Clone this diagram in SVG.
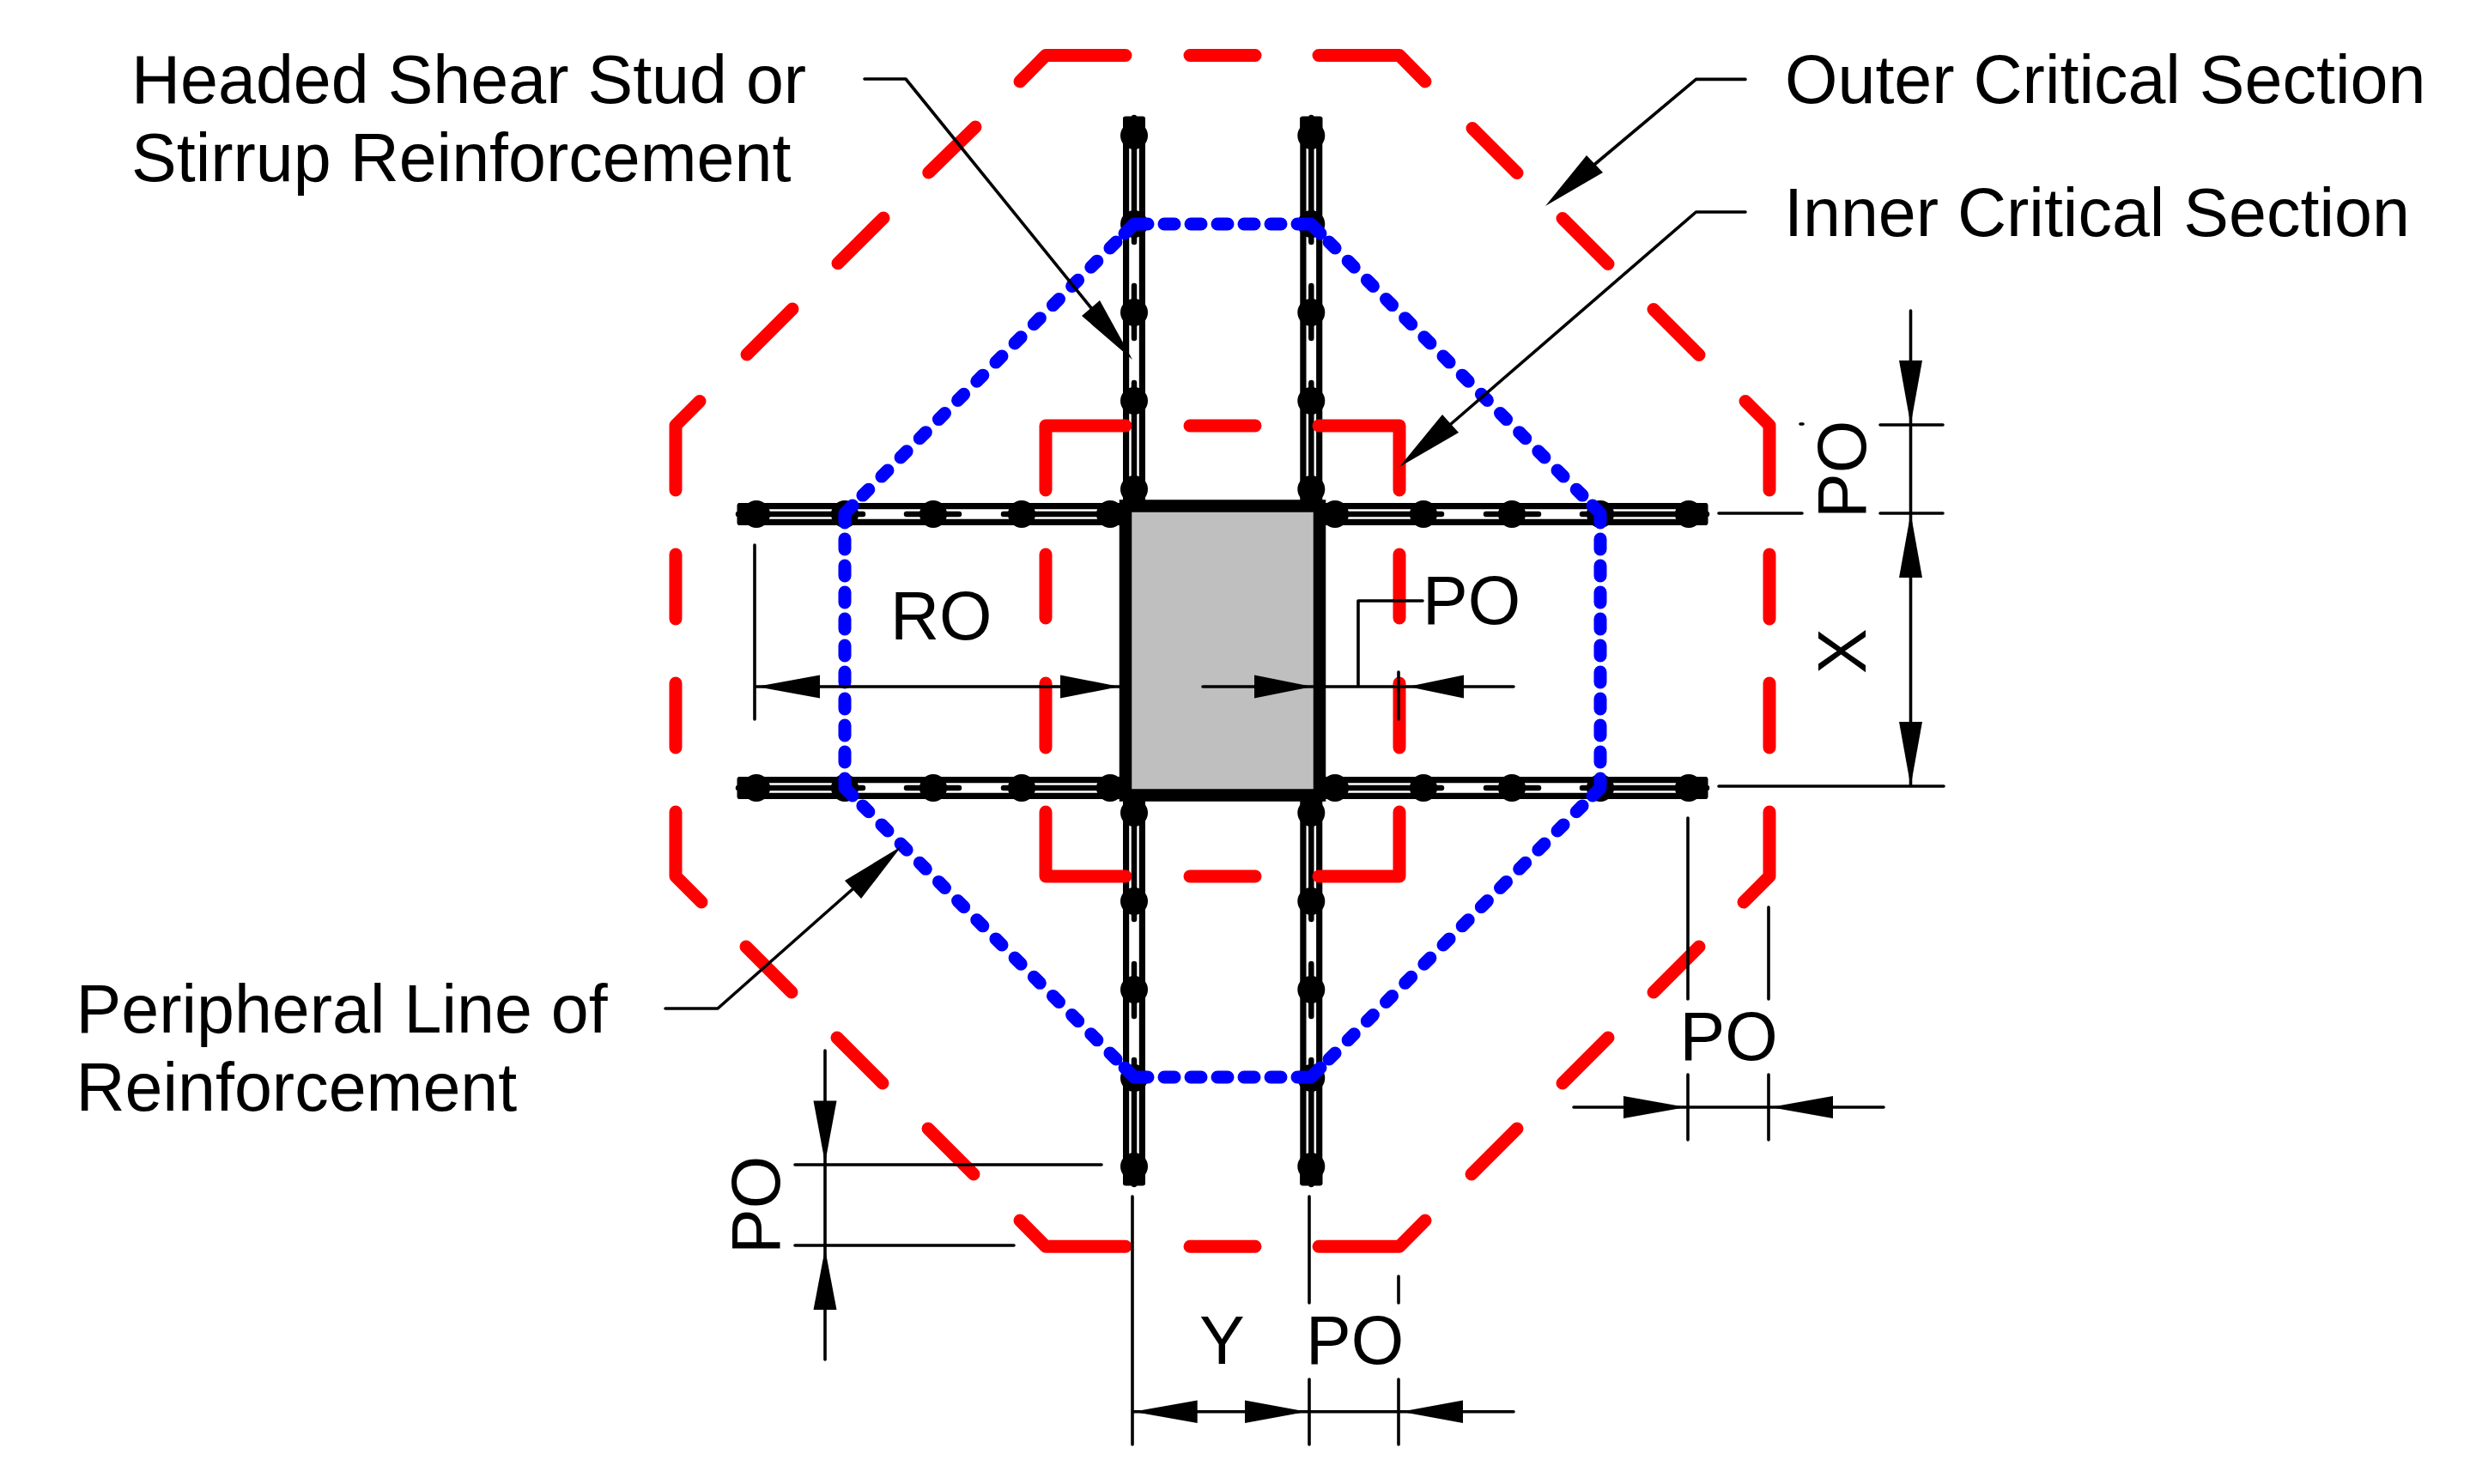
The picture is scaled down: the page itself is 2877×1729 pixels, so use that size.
<svg xmlns="http://www.w3.org/2000/svg" xmlns:xlink="http://www.w3.org/1999/xlink" width="2877" height="1729" viewBox="0 0 2877 1729">
<style>
.lbl{font-family:"Liberation Sans",Arial,sans-serif;font-size:79px;fill:#000}
.red{fill:none;stroke:#f00;stroke-width:15;stroke-linecap:round;stroke-linejoin:round}
.blue{fill:none;stroke:#00f;stroke-width:15;stroke-linecap:round;stroke-linejoin:round}
.dot{stroke-dasharray:12 19}
.dotd{stroke-dasharray:10 21.35}
.dim{fill:none;stroke:#000;stroke-width:3.6;stroke-linecap:round;stroke-linejoin:round}
.tip{fill:#000;stroke:none}
.rail{stroke:#000;stroke-width:7.2;fill:none}
.core{stroke:#000;stroke-width:6.5;fill:none;stroke-linecap:round}
</style>
<defs>
<g id="arm">
<path class="rail" d="M-21 -9.4H440M-21 9.4H440"/>
<path class="core" d="M-21 0H124M175 0H236M288 0H440"/>
<rect x="-22.5" y="-13" width="24" height="26" rx="3" fill="#000"/>
<circle cx="0" cy="0" r="16" fill="#000"/>
<circle cx="103" cy="0" r="16" fill="#000"/>
<circle cx="206" cy="0" r="16" fill="#000"/>
<circle cx="309" cy="0" r="16" fill="#000"/>
<circle cx="412" cy="0" r="16" fill="#000"/>
</g>
</defs>
<rect width="2877" height="1729" fill="#fff"/>
<g id="studs">
<use id="stud-left-top" xlink:href="#arm" href="#arm" transform="translate(881 599)"/>
<use id="stud-left-bottom" xlink:href="#arm" href="#arm" transform="translate(881 918)"/>
<use id="stud-right-top" xlink:href="#arm" href="#arm" transform="translate(1967 599) scale(-1 1)"/>
<use id="stud-right-bottom" xlink:href="#arm" href="#arm" transform="translate(1967 918) scale(-1 1)"/>
<use id="stud-top-left" xlink:href="#arm" href="#arm" transform="translate(1321 158) rotate(90)"/>
<use id="stud-top-right" xlink:href="#arm" href="#arm" transform="translate(1527.3 158) rotate(90)"/>
<use id="stud-bottom-left" xlink:href="#arm" href="#arm" transform="translate(1321 1359) rotate(-90)"/>
<use id="stud-bottom-right" xlink:href="#arm" href="#arm" transform="translate(1527.3 1359) rotate(-90)"/>
</g>
<g id="column"><rect x="1311" y="589.5" width="226" height="337" fill="#bfbfbf" stroke="#000" stroke-width="14.5"/></g>
<g id="outer-critical-section">
<path class="red" d="M1188 95L1218 64.5H1311M1386 64.5H1462M1536 64.5H1630L1660 95M1715 149.5L1767 201.5M1820 254.5L1873 307.5M1926 360.5L1979 413.5M2033 467.5L2061 495.5V571M2061 646V721M2061 796V871M2061 946V1021L2031 1051M1979 1103L1926 1156M1873 1209L1820 1262M1767 1315L1714 1368M1660 1422L1630 1452.3H1536M1462 1452.3H1386M1311 1452.3H1218L1188 1422M1134 1368L1081 1315M1028 1262L975 1209M922 1156L869 1103M817 1051L787 1021V946M787 871V796M787 721V646M787 571V495.5L815 467.5M870 413L923 360M976 306.7L1029 254M1081.7 201L1136 148"/>
</g>
<g id="inner-critical-section">
<path class="red" d="M1311 496H1218V571M1386 496H1462M1536 496H1630V571M1218 646V720M1218 796V871M1630 646V720M1630 796V871M1218 946V1021H1311M1386 1021H1462M1536 1021H1630V946"/>
</g>
<g id="peripheral-line">
<path class="blue" d="M1310 272L1321 261H1337M1511 261H1527L1538 272M1310 1244L1321 1255H1337M1511 1255H1527L1538 1244M993 589L984 598V609M984 907V918L993 927M1855 589L1864 598V609M1864 907V918L1855 927"/>
<path class="blue dot" d="M1356 261H1492M1356 1255H1492M984 628V888M1864 628V888"/>
<path class="blue dotd" d="M1300 282L1004.9 577.1M1548 282L1843.1 577.1M1300 1234L1004.9 938.9M1548 1234L1843.1 938.9"/>
</g>
<g id="connectors">
<path class="dim" d="M1007 92H1055L1272 360M2033 92.4H1975.5L1858 191M2033 247H1975.5L1690 494M775 1175H836L993 1036"/>
<polygon class="tip" points="1319,419 1281,350 1260,368"/>
<polygon class="tip" points="1800,240 1848,181 1867,201"/>
<polygon class="tip" points="1630,544 1680,483 1699,504"/>
<polygon class="tip" points="1050,986 984,1026 1003,1047"/>
<path class="dim" d="M879 635V838M879 800H1304M1401 800H1763M1582 800V700H1657M1629 783V838"/>
<polygon class="tip" points="881,800 955,786.5 955,813.5"/>
<polygon class="tip" points="1304,800 1235,786.5 1235,813.5"/>
<polygon class="tip" points="1529,800 1461,786.5 1461,813.5"/>
<polygon class="tip" points="1640,800 1705,786.5 1705,813.5"/>
<path class="dim" d="M2225.5 362V916M2190 495H2263M2190 598H2263M2002 598H2099M2002 916H2264M2097 494H2100"/>
<polygon class="tip" points="2225.5,495 2212,420 2239,420"/>
<polygon class="tip" points="2225.5,598 2212,673 2239,673"/>
<polygon class="tip" points="2225.5,916 2212,841 2239,841"/>
<path class="dim" d="M1966 953V1164M1966 1252V1328M2060 1057V1164M2060 1252V1328M1833 1290H2194"/>
<polygon class="tip" points="1964,1290 1891,1277 1891,1303"/>
<polygon class="tip" points="2062,1290 2135,1277 2135,1303"/>
<path class="dim" d="M961 1224V1584M926 1357H1283M926 1451H1181"/>
<polygon class="tip" points="961,1355 947.5,1282.5 974.5,1282.5"/>
<polygon class="tip" points="961,1455 947.5,1526 974.5,1526"/>
<path class="dim" d="M1319 1394V1683M1525 1394V1518M1525 1607V1683M1629 1487V1518M1629 1607V1683M1319 1644.7H1763"/>
<polygon class="tip" points="1320,1644.7 1394.7,1631.5 1394.7,1658"/>
<polygon class="tip" points="1522,1644.7 1450,1631.5 1450,1658"/>
<polygon class="tip" points="1632,1644.7 1704,1631.5 1704,1658"/>
</g>
<g id="labels">
<text class="lbl" x="153" y="120">Headed Shear Stud or</text>
<text class="lbl" x="153" y="211">Stirrup Reinforcement</text>
<text class="lbl" x="2079" y="119.5">Outer Critical Section</text>
<text class="lbl" x="2078" y="274.5">Inner Critical Section</text>
<text class="lbl" x="88.5" y="1203">Peripheral Line of</text>
<text class="lbl" x="88.5" y="1293.5">Reinforcement</text>
<text class="lbl" x="1037" y="744.5">RO</text>
<text class="lbl" x="1657" y="726.7">PO</text>
<text class="lbl" x="1956.5" y="1235">PO</text>
<text class="lbl" x="1397" y="1589">Y</text>
<text class="lbl" x="1521" y="1589">PO</text>
<text class="lbl" transform="translate(2173 604) rotate(-90)">PO</text>
<text class="lbl" transform="translate(2173 785) rotate(-90)">X</text>
<text class="lbl" transform="translate(908 1461) rotate(-90)">PO</text>
</g>
</svg>
